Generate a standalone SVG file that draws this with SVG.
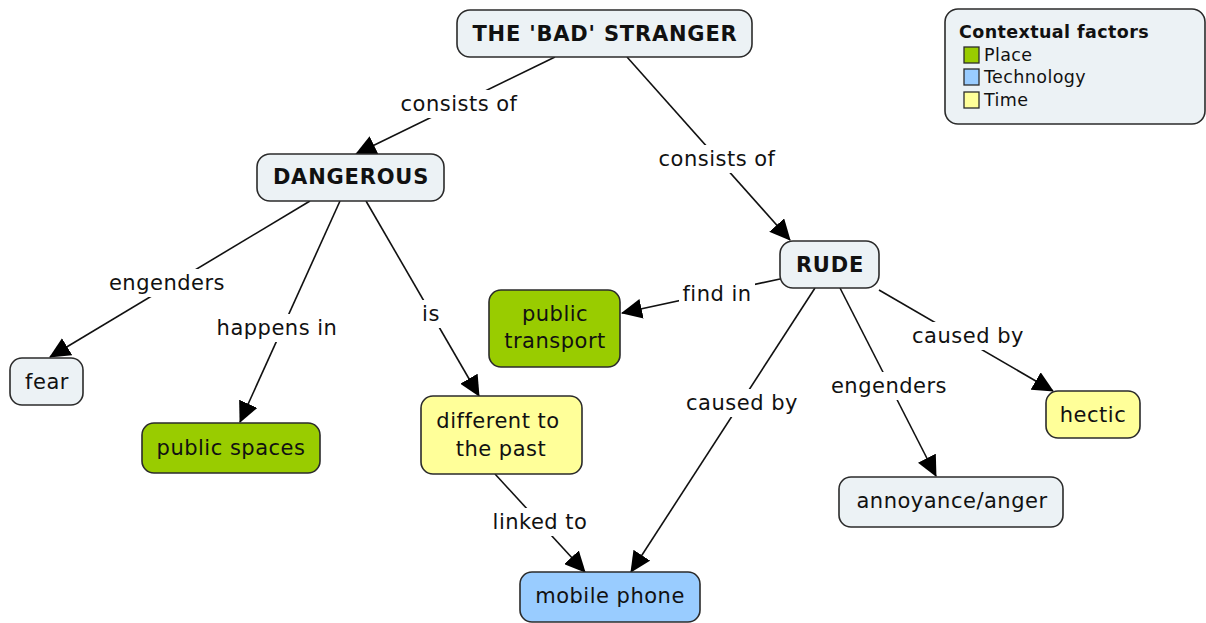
<svg xmlns="http://www.w3.org/2000/svg" width="1206" height="623" viewBox="0 0 1206 623">
<style>
.n{stroke:#2b2b2b;stroke-width:1.6}
.c{fill:#ecf2f5}.g{fill:#99cc00}.b{fill:#99ccff}.y{fill:#ffff99}
text{font-family:"DejaVu Sans",Verdana,sans-serif;font-size:21px;letter-spacing:0.5px;fill:#111;text-anchor:middle}
.bold{font-weight:bold;letter-spacing:0.8px}
.lg{font-size:17.5px;letter-spacing:0.4px;text-anchor:start}
.l{stroke:#111;stroke-width:1.6;fill:none;marker-end:url(#ah)}
.lb{fill:#fff}
</style>
<defs>
<marker id="ah" markerUnits="userSpaceOnUse" markerWidth="22" markerHeight="20" refX="20" refY="10" orient="auto">
<path d="M0,0 L21,10 L0,20 z" fill="#000"/>
</marker>
</defs>
<g id="connectors">
<line class="l" x1="555" y1="57" x2="356" y2="154"/>
<line class="l" x1="627" y1="57" x2="790" y2="240"/>
<line class="l" x1="310" y1="201" x2="50" y2="357"/>
<line class="l" x1="340" y1="201" x2="240" y2="422"/>
<line class="l" x1="366" y1="201" x2="479" y2="396"/>
<line class="l" x1="780" y1="279" x2="622" y2="313"/>
<line class="l" x1="815" y1="288" x2="631" y2="572"/>
<line class="l" x1="840" y1="288" x2="936" y2="476"/>
<line class="l" x1="879" y1="290" x2="1053" y2="391"/>
<line class="l" x1="495" y1="474" x2="585" y2="572"/>
<g id="labels">
<rect class="lb" x="396" y="90" width="126" height="28"/><text x="459" y="111">consists of</text>
<rect class="lb" x="654" y="145" width="126" height="28"/><text x="717" y="166">consists of</text>
<rect class="lb" x="105" y="269" width="124" height="28"/><text x="167" y="290">engenders</text>
<rect class="lb" x="213" y="314" width="128" height="28"/><text x="277" y="335">happens in</text>
<rect class="lb" x="419" y="300" width="24" height="28"/><text x="431" y="321">is</text>
<rect class="lb" x="679" y="281" width="76" height="28"/><text x="717" y="301">find in</text>
<rect class="lb" x="682" y="389" width="120" height="28"/><text x="742" y="410">caused by</text>
<rect class="lb" x="827" y="372" width="124" height="28"/><text x="889" y="393">engenders</text>
<rect class="lb" x="908" y="322" width="120" height="28"/><text x="968" y="343">caused by</text>
<rect class="lb" x="489" y="508" width="104" height="28"/><text x="540" y="529">linked to</text>
</g>
</g>
<g id="stranger"><rect class="n c" x="457" y="10" width="295" height="47" rx="13"/><text class="bold" x="605" y="41">THE 'BAD' STRANGER</text></g>
<g id="legend">
<rect class="n c" x="945" y="9" width="260" height="115" rx="13"/>
<text class="bold lg" x="959" y="38">Contextual factors</text>
<rect class="n g" x="964" y="47" width="15" height="16" style="stroke-width:1.3"/>
<text class="lg" x="984" y="61">Place</text>
<rect class="n b" x="964" y="69" width="15" height="16" style="stroke-width:1.3"/>
<text class="lg" x="984" y="83">Technology</text>
<rect class="n y" x="964" y="92" width="15" height="16" style="stroke-width:1.3"/>
<text class="lg" x="984" y="106">Time</text>
</g>
<g id="dangerous"><rect class="n c" x="257" y="154" width="187" height="47" rx="13"/><text class="bold" x="351" y="184">DANGEROUS</text></g>
<g id="rude"><rect class="n c" x="780" y="241" width="99" height="47" rx="13"/><text class="bold" x="830" y="272">RUDE</text></g>
<g id="fear"><rect class="n c" x="10" y="358" width="73" height="47" rx="12"/><text x="47" y="389">fear</text></g>
<g id="public-spaces"><rect class="n g" x="142" y="423" width="178" height="50" rx="12"/><text x="231" y="455">public spaces</text></g>
<g id="different"><rect class="n y" x="421" y="396" width="161" height="78" rx="12"/><text x="498" y="428">different to</text><text x="501" y="456">the past</text></g>
<g id="public-transport"><rect class="n g" x="489" y="290" width="131" height="77" rx="12"/><text x="555" y="321">public</text><text x="555" y="348">transport</text></g>
<g id="mobile-phone"><rect class="n b" x="520" y="572" width="180" height="50" rx="12"/><text x="610" y="603">mobile phone</text></g>
<g id="hectic"><rect class="n y" x="1046" y="391" width="94" height="47" rx="12"/><text x="1093" y="422">hectic</text></g>
<g id="annoyance"><rect class="n c" x="839" y="477" width="224" height="50" rx="12"/><text x="952" y="508">annoyance/anger</text></g>
</svg>
